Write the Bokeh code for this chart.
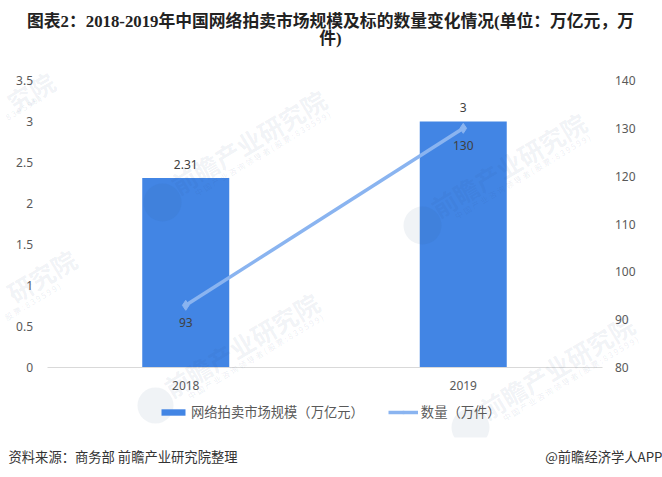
from bokeh.embed import file_html
from bokeh.resources import INLINE
from bokeh.plotting import figure
from bokeh.core.properties import value
from bokeh.models import (ColumnDataSource, Range1d, LinearAxis, FixedTicker,
                          LabelSet, Label, Legend, LegendItem, BoxAnnotation)

# Data
years = ["2018", "2019"]
year_positions = [0, 1]
market_size = [2.31, 3]
market_labels = ["2.31", "3"]
quantity = [93, 130]
quantity_labels = ["93", "130"]
left_ticks = [0, 0.5, 1, 1.5, 2, 2.5, 3, 3.5]
left_tick_labels = ["0", "0.5", "1", "1.5", "2", "2.5", "3", "3.5"]
right_ticks = [80, 90, 100, 110, 120, 130, 140]
series_names = ["网络拍卖市场规模（万亿元）", "数量（万件）"]
title_lines = ["图表2：2018-2019年中国网络拍卖市场规模及标的数量变化情况(单位：万亿元，万", "件)"]
source_text = "资料来源：商务部 前瞻产业研究院整理"
credit_text = "@前瞻经济学人APP"
watermark_main = "前瞻产业研究院"
watermark_sub = "中 国 产 业 咨 询 领 导 者 ( 股 票 : 8 3 9 5 9 9 )"
watermark_cut_main = ["究院", "研究院"]
watermark_cut_sub = ["8 3 9 5 9 9 )", "股 票 : 8 3 9 5 9 9 )"]

W, H = 662, 477
FL, FR, FT, FB = 46.5, 601.5, 80, 367   # plot box inside the page, pixels
CJK = "'Noto Sans CJK SC', sans-serif"
TXT = "#595959"
WM = "#2f4f86"

cat_px = (FR - FL) / 2
y_px = (FB - FT) / 3.5
q_px = (FB - FT) / 60
x_start = -0.5 - FL / cat_px
x_end = 1.5 + (W - FR) / cat_px

src = ColumnDataSource(dict(pos=year_positions, year=years, size=market_size, size_label=market_labels,
                            qty=quantity, qty_label=quantity_labels))

p = figure(width=W, height=H, output_backend="svg", toolbar_location=None,
           x_range=Range1d(x_start, x_end),
           y_range=Range1d(-(H - FB) / y_px, 3.5 + FT / y_px),
           x_axis_location=None, y_axis_location=None,
           min_border=0, min_border_left=0, min_border_right=0, min_border_top=0, min_border_bottom=0,
           outline_line_color=None, background_fill_color="white", border_fill_color="white")
p.xgrid.visible = False
p.ygrid.visible = False
p.extra_y_ranges = {"qty": Range1d(80 - (H - FB) / q_px, 140 + FT / q_px)}

x_ax = LinearAxis(fixed_location=0, ticker=FixedTicker(ticks=year_positions),
                  major_label_overrides={i: y for i, y in zip(year_positions, years)}, bounds=(-0.5, 1.5),
                  axis_line_color="#d9d9d9", axis_line_width=1, major_label_standoff=7)
l_ax = LinearAxis(fixed_location=-0.5, ticker=FixedTicker(ticks=left_ticks),
                  major_label_overrides={t: s for t, s in zip(left_ticks, left_tick_labels)},
                  axis_line_color=None, major_label_standoff=8)
r_ax = LinearAxis(fixed_location=1.5, y_range_name="qty", ticker=FixedTicker(ticks=right_ticks),
                  axis_line_color=None, major_label_standoff=7)
for ax, side in [(x_ax, "below"), (l_ax, "left"), (r_ax, "right")]:
    ax.major_tick_line_color = None
    ax.minor_tick_line_color = None
    ax.major_label_text_color = TXT
    ax.major_label_text_font_size = "12px"
    ax.major_label_text_font = "'Noto Sans', sans-serif"
    p.add_layout(ax, side)


def text(t, x, y, size, color=TXT, align="left", font=CJK, style="normal", angle=0.0, alpha=1.0):
    p.add_layout(Label(x=x, y=H - y, x_units="screen", y_units="screen", text=t, text_font=font,
                       text_font_size=size, text_color=color, text_align=align, text_baseline="middle",
                       text_font_style=style, angle=angle, text_alpha=alpha, level="overlay"))


bars = p.vbar(x="pos", top="size", width=0.3135, source=src, fill_color="#4285e4", line_color=None)
line = p.line(x="pos", y="qty", source=src, y_range_name="qty", line_color="#8ab4f0", line_width=3.5)
pts = p.scatter(x="pos", y="qty", source=src, y_range_name="qty", marker="diamond", size=10,
                fill_color="#8ab4f0", line_color="#8ab4f0")

# watermarks: logo centre and radius in page pixels
for lx, ly, rad in [(162, 202, 19), (422, 225, 19), (155, 405, 18), (470, 427, 19)]:
    p.add_layout(BoxAnnotation(left=lx - rad, right=lx + rad, top=H - (ly - rad), bottom=H - (ly + rad),
                               left_units="screen", right_units="screen", top_units="screen", bottom_units="screen",
                               border_radius=rad, fill_color=WM, fill_alpha=0.07, line_color=None,
                               level="overlay"))
    text(watermark_main, lx + 86, ly - 61, "25px", color=WM, align="center", style="bold", angle=0.54, alpha=0.08)
    text(watermark_sub, lx + 100, ly - 49, "8px", color=WM, align="center", angle=0.54, alpha=0.10)
# the two at the left edge only show their last characters
for t, cx, cy in zip(watermark_cut_main, [30, 41], [91, 275]):
    text(t, cx, cy, "25px", color=WM, align="center", style="bold", angle=0.54, alpha=0.08)
for t, cx, cy in zip(watermark_cut_sub, [23, 32], [107, 301]):
    text(t, cx, cy, "8px", color=WM, align="center", angle=0.54, alpha=0.10)

# the picture's watermarks stop short of the source line
p.add_layout(BoxAnnotation(left=0, right=W, top=H - 437, bottom=0, left_units="screen",
                           right_units="screen", top_units="screen", bottom_units="screen",
                           fill_color="white", fill_alpha=1, line_color=None, level="overlay"))

p.add_layout(LabelSet(x="pos", y="size", text="size_label", source=src, y_offset=14, text_align="center",
                      text_baseline="middle", text_font_size=value("12px"), text_color="#404040",
                      text_font=value("Noto Sans")))
p.add_layout(LabelSet(x="pos", y="qty", text="qty_label", source=src, y_range_name="qty", y_offset=-17,
                      text_align="center", text_baseline="middle", text_font_size=value("12px"), text_color="#404040",
                      text_font=value("Noto Sans")))

legend = Legend(items=[LegendItem(label=series_names[0], renderers=[bars]),
                       LegendItem(label=series_names[1], renderers=[line, pts])],
                orientation="horizontal", location=(158, H - 421), border_line_color=None,
                background_fill_alpha=0, glyph_width=30, glyph_height=8, label_text_font=CJK,
                label_text_font_size="13.3px", label_text_color=TXT, spacing=24, padding=0, margin=0,
                label_standoff=3)
p.add_layout(legend)

tf = "'Liberation Serif', 'Noto Sans CJK SC', serif"
text(title_lines[0], 330, 21, "16.8px", color="#222222", align="center", font=tf, style="bold")
text(title_lines[1], 330, 38, "16.8px", color="#222222", align="center", font=tf, style="bold")
text(source_text, 8, 456, "13.3px", color="#333333")
text(credit_text, 662, 456, "13.3px", color="#333333", align="right")

open("out.html", "w").write(file_html(p, INLINE))
